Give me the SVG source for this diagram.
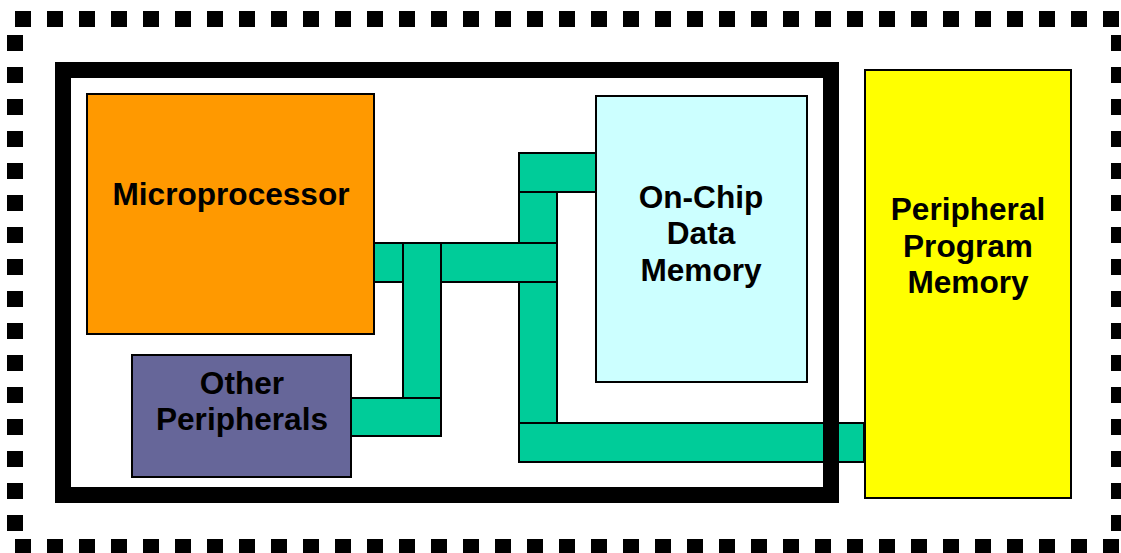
<svg xmlns="http://www.w3.org/2000/svg" width="1121" height="553" viewBox="0 0 1121 553">
<style>
.box{stroke:#000;stroke-width:2}
.bus{fill:#00CC99;stroke:#000;stroke-width:2}
.lbl{font-family:"Liberation Sans",Arial,sans-serif;font-weight:bold;font-size:31.6px;fill:#000;text-anchor:middle}
</style>
<rect x="0" y="0" width="1121" height="553" fill="#fff"/>
<g id="outer-border">
<rect x="15" y="19" width="1104" height="528" fill="none" stroke="#000" stroke-width="16" stroke-dasharray="16 16"/>
</g>
<g id="connectors">
<rect class="bus" x="519" y="153" width="77" height="39"/>
<rect class="bus" x="519" y="192" width="38" height="51"/>
<rect class="bus" x="374" y="243" width="29" height="39"/>
<rect class="bus" x="441" y="243" width="116" height="39"/>
<rect class="bus" x="403" y="243" width="38" height="155"/>
<rect class="bus" x="519" y="282" width="38" height="141"/>
<rect class="bus" x="351" y="398" width="90" height="38"/>
<rect class="bus" x="519" y="423" width="345" height="39"/>
</g>
<g id="chip-frame">
<rect x="63" y="70" width="768" height="425" fill="none" stroke="#000" stroke-width="16"/>
</g>
<g id="microprocessor">
<rect class="box" x="87" y="94" width="287" height="240" fill="#FF9900"/>
<text class="lbl" x="231" y="205">Microprocessor</text>
</g>
<g id="other-peripherals">
<rect class="box" x="132" y="355" width="219" height="122" fill="#666699"/>
<text class="lbl" x="242" y="394">Other</text>
<text class="lbl" x="242" y="430">Peripherals</text>
</g>
<g id="on-chip-data-memory">
<rect class="box" x="596" y="96" width="211" height="286" fill="#CCFFFF"/>
<text class="lbl" x="701" y="208">On-Chip</text>
<text class="lbl" x="701" y="244">Data</text>
<text class="lbl" x="701" y="281">Memory</text>
</g>
<g id="peripheral-program-memory">
<rect class="box" x="865" y="70" width="206" height="428" fill="#FFFF00"/>
<text class="lbl" x="968" y="220">Peripheral</text>
<text class="lbl" x="968" y="257">Program</text>
<text class="lbl" x="968" y="293">Memory</text>
</g>
</svg>
